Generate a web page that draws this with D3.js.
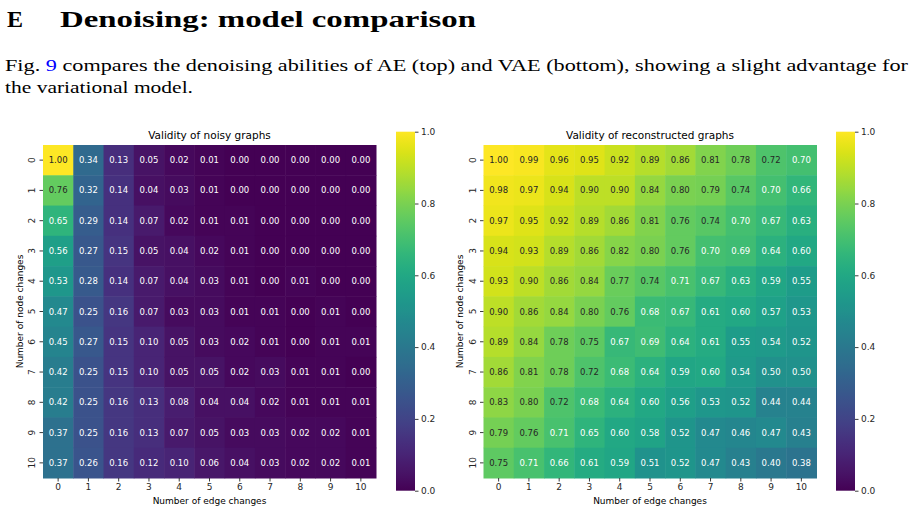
<!DOCTYPE html>
<html>
<head>
<meta charset="utf-8">
<script src="https://cdn.jsdelivr.net/npm/d3@7"></script>
<style>
  html, body { margin: 0; padding: 0; background: #fff; }
  svg { display: block; }
</style>
</head>
<body>
<svg id="chart" width="914" height="511"></svg>
<script>
// ---- data ----
const nodeChanges = [0,1,2,3,4,5,6,7,8,9,10];
const edgeChanges = [0,1,2,3,4,5,6,7,8,9,10];
const noisyValidity = [
  [1.00,0.34,0.13,0.05,0.02,0.01,0.00,0.00,0.00,0.00,0.00],
  [0.76,0.32,0.14,0.04,0.03,0.01,0.00,0.00,0.00,0.00,0.00],
  [0.65,0.29,0.14,0.07,0.02,0.01,0.01,0.00,0.00,0.00,0.00],
  [0.56,0.27,0.15,0.05,0.04,0.02,0.01,0.00,0.00,0.00,0.00],
  [0.53,0.28,0.14,0.07,0.04,0.03,0.01,0.00,0.01,0.00,0.00],
  [0.47,0.25,0.16,0.07,0.03,0.03,0.01,0.01,0.00,0.01,0.00],
  [0.45,0.27,0.15,0.10,0.05,0.03,0.02,0.01,0.00,0.01,0.01],
  [0.42,0.25,0.15,0.10,0.05,0.05,0.02,0.03,0.01,0.01,0.00],
  [0.42,0.25,0.16,0.13,0.08,0.04,0.04,0.02,0.01,0.01,0.01],
  [0.37,0.25,0.16,0.13,0.07,0.05,0.03,0.03,0.02,0.02,0.01],
  [0.37,0.26,0.16,0.12,0.10,0.06,0.04,0.03,0.02,0.02,0.01]
];
const reconValidity = [
  [1.00,0.99,0.96,0.95,0.92,0.89,0.86,0.81,0.78,0.72,0.70],
  [0.98,0.97,0.94,0.90,0.90,0.84,0.80,0.79,0.74,0.70,0.66],
  [0.97,0.95,0.92,0.89,0.86,0.81,0.76,0.74,0.70,0.67,0.63],
  [0.94,0.93,0.89,0.86,0.82,0.80,0.76,0.70,0.69,0.64,0.60],
  [0.93,0.90,0.86,0.84,0.77,0.74,0.71,0.67,0.63,0.59,0.55],
  [0.90,0.86,0.84,0.80,0.76,0.68,0.67,0.61,0.60,0.57,0.53],
  [0.89,0.84,0.78,0.75,0.67,0.69,0.64,0.61,0.55,0.54,0.52],
  [0.86,0.81,0.78,0.72,0.68,0.64,0.59,0.60,0.54,0.50,0.50],
  [0.83,0.80,0.72,0.68,0.64,0.60,0.56,0.53,0.52,0.44,0.44],
  [0.79,0.76,0.71,0.65,0.60,0.58,0.52,0.47,0.46,0.47,0.43],
  [0.75,0.71,0.66,0.61,0.59,0.51,0.52,0.47,0.43,0.40,0.38]
];
const colorbarTicks = [0.0,0.2,0.4,0.6,0.8,1.0];
const panelTitles = ["Validity of noisy graphs","Validity of reconstructed graphs"];
const xAxisLabel = "Number of edge changes";
const yAxisLabel = "Number of node changes";
const headingLetter = "E";
const headingText = "Denoising: model comparison";
const paraLine1 = ["Fig. ", "9", " compares the denoising abilities of AE (top) and VAE (bottom), showing a slight advantage for"];
const paraLine2 = "the variational model.";

// ---- drawing ----
const svg = d3.select("#chart");
const sans = "DejaVu Sans, sans-serif";
const serif = "Liberation Serif, DejaVu Serif, serif";
const ink = "#262626";

// heading
svg.append("text").attr("x", 7).attr("y", 27)
  .attr("font-family", serif).attr("font-weight", "bold").attr("font-size", 24)
  .attr("fill", "#000").text(headingLetter);
svg.append("text").attr("x", 60).attr("y", 27)
  .attr("font-family", serif).attr("font-weight", "bold").attr("font-size", 24)
  .attr("textLength", 416).attr("lengthAdjust", "spacingAndGlyphs")
  .attr("fill", "#000").text(headingText);

// paragraph
const p1 = svg.append("text").attr("x", 5).attr("y", 71)
  .attr("font-family", serif).attr("font-size", 16.5)
  .attr("textLength", 903).attr("lengthAdjust", "spacingAndGlyphs").attr("fill", "#000");
p1.append("tspan").text(paraLine1[0]);
p1.append("tspan").attr("fill", "#0000ff").text(paraLine1[1]);
p1.append("tspan").text(paraLine1[2]);
svg.append("text").attr("x", 5).attr("y", 93)
  .attr("font-family", serif).attr("font-size", 16.5)
  .attr("textLength", 188).attr("lengthAdjust", "spacingAndGlyphs")
  .attr("fill", "#000").text(paraLine2);

const color = d3.scaleSequential(d3.interpolateViridis).domain([0, 1]);

function lum(c) {
  const rgb = d3.rgb(c);
  const f = v => { v = v / 255; return v <= 0.03928 ? v / 12.92 : Math.pow((v + 0.055) / 1.055, 2.4); };
  return 0.2126 * f(rgb.r) + 0.7152 * f(rgb.g) + 0.0722 * f(rgb.b);
}

// gradient for colorbars
const defs = svg.append("defs");
const grad = defs.append("linearGradient").attr("id", "viridisGrad")
  .attr("x1", "0").attr("y1", "1").attr("x2", "0").attr("y2", "0");
d3.range(0, 1.0001, 0.02).forEach(t => {
  grad.append("stop").attr("offset", t).attr("stop-color", color(t));
});

function panel(data, title, ox, oy, size, cbx) {
  const g = svg.append("g");
  const x = d3.scaleBand().domain(edgeChanges).range([ox, ox + size]);
  const y = d3.scaleBand().domain(nodeChanges).range([oy, oy + size]);

  const cells = [];
  data.forEach((row, i) => row.forEach((v, j) => cells.push({ r: nodeChanges[i], c: edgeChanges[j], v })));

  g.selectAll("rect.cell").data(cells).join("rect")
    .attr("x", d => x(d.c)).attr("y", d => y(d.r))
    .attr("width", x.bandwidth() + 0.5).attr("height", y.bandwidth() + 0.5)
    .attr("fill", d => color(d.v));

  g.selectAll("text.ann").data(cells).join("text")
    .attr("x", d => x(d.c) + x.bandwidth() / 2)
    .attr("y", d => y(d.r) + y.bandwidth() / 2)
    .attr("text-anchor", "middle").attr("dominant-baseline", "central")
    .attr("font-family", sans).attr("font-size", 8.5)
    .attr("fill", d => lum(color(d.v)) > 0.408 ? ink : "#ffffff")
    .text(d => d.v.toFixed(2));

  // x axis
  const xa = g.append("g").attr("transform", `translate(0,${oy + size})`)
    .call(d3.axisBottom(x).tickSize(3.5).tickPadding(2.5));
  xa.select(".domain").remove();
  xa.selectAll("line").attr("stroke", ink).attr("stroke-width", 0.9);
  xa.selectAll("text").attr("font-family", sans).attr("font-size", 9).attr("fill", ink);

  // y axis
  const ya = g.append("g").attr("transform", `translate(${ox},0)`)
    .call(d3.axisLeft(y).tickSize(3.5).tickPadding(2.5));
  ya.select(".domain").remove();
  ya.selectAll("line").attr("stroke", ink).attr("stroke-width", 0.9);
  ya.selectAll("text").attr("font-family", sans).attr("font-size", 9).attr("fill", ink)
    .attr("text-anchor", "middle").attr("dy", null).attr("x", null)
    .attr("dominant-baseline", "central")
    .attr("transform", "translate(-11,0) rotate(-90)");

  // title
  g.append("text").attr("x", ox + size / 2).attr("y", oy - 6)
    .attr("text-anchor", "middle").attr("font-family", sans).attr("font-size", 10.5)
    .attr("fill", "#000").text(title);

  // axis labels
  g.append("text").attr("x", ox + size / 2).attr("y", oy + size + 26)
    .attr("text-anchor", "middle").attr("font-family", sans).attr("font-size", 9)
    .attr("fill", "#000").text(xAxisLabel);
  g.append("text")
    .attr("transform", `translate(${ox - 23.5},${oy + size / 2}) rotate(-90)`)
    .attr("text-anchor", "middle").attr("dominant-baseline", "central")
    .attr("font-family", sans).attr("font-size", 9)
    .attr("fill", "#000").text(yAxisLabel);

  // colorbar
  const cbTop = 131.7, cbBot = 490.7, cbW = 19;
  const cy = d3.scaleLinear().domain([0, 1]).range([cbBot, cbTop]);
  g.append("rect").attr("x", cbx).attr("y", cbTop).attr("width", cbW).attr("height", cbBot - cbTop)
    .attr("fill", "url(#viridisGrad)");
  const ca = g.append("g").attr("transform", `translate(${cbx + cbW},0)`)
    .call(d3.axisRight(cy).tickValues(colorbarTicks).tickFormat(d3.format(".1f")).tickSize(3.5).tickPadding(2.5));
  ca.select(".domain").remove();
  ca.selectAll("line").attr("stroke", ink).attr("stroke-width", 0.9);
  ca.selectAll("text").attr("font-family", sans).attr("font-size", 9).attr("fill", ink);
}

panel(noisyValidity, panelTitles[0], 43, 145, 333, 396);
panel(reconValidity, panelTitles[1], 483.5, 145, 333, 836);
</script>
</body>
</html>
